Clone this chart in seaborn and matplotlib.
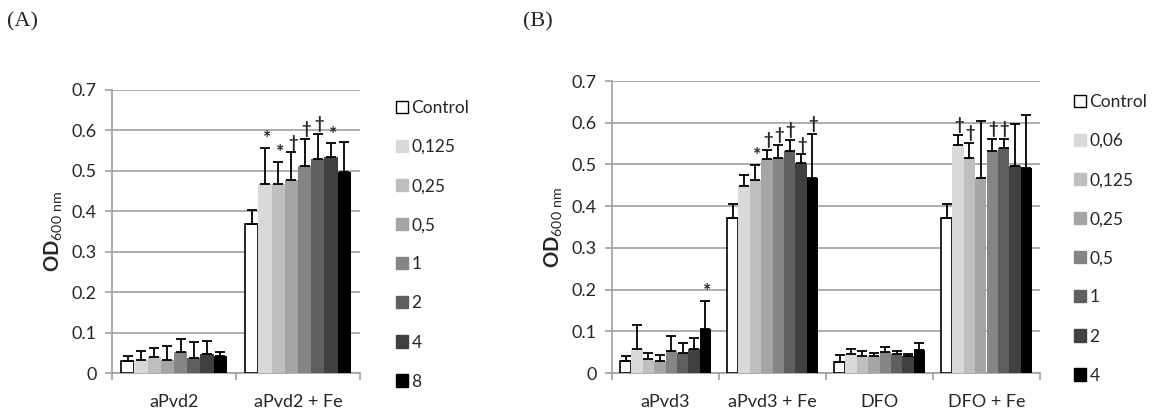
import pandas as pd
import matplotlib
matplotlib.use("Agg")
import matplotlib.pyplot as plt
from matplotlib.patches import Patch
import seaborn as sns

# ---- data ----
conc_a = ['Control', '0,125', '0,25', '0,5', '1', '2', '4', '8']
groups_a = ['aPvd2', 'aPvd2 + Fe']
mean_a = {
    'aPvd2':      [0.030, 0.033, 0.039, 0.033, 0.051, 0.037, 0.046, 0.041],
    'aPvd2 + Fe': [0.369, 0.467, 0.467, 0.477, 0.512, 0.529, 0.535, 0.496],
}
err_a = {
    'aPvd2':      [0.013, 0.021, 0.023, 0.033, 0.032, 0.039, 0.033, 0.011],
    'aPvd2 + Fe': [0.035, 0.089, 0.056, 0.069, 0.067, 0.062, 0.033, 0.076],
}
sig_a = {
    'aPvd2':      ['', '', '', '', '', '', '', ''],
    'aPvd2 + Fe': ['', '*', '*', '†', '†', '†', '*', ''],
}

conc_b = ['Control', '0,06', '0,125', '0,25', '0,5', '1', '2', '4']
groups_b = ['aPvd3', 'aPvd3 + Fe', 'DFO', 'DFO + Fe']
mean_b = {
    'aPvd3':      [0.028, 0.057, 0.033, 0.028, 0.053, 0.049, 0.057, 0.105],
    'aPvd3 + Fe': [0.371, 0.448, 0.463, 0.512, 0.516, 0.531, 0.504, 0.467],
    'DFO':        [0.027, 0.046, 0.041, 0.041, 0.051, 0.046, 0.041, 0.055],
    'DFO + Fe':   [0.371, 0.547, 0.515, 0.468, 0.533, 0.540, 0.496, 0.491],
}
err_b = {
    'aPvd3':      [0.013, 0.059, 0.015, 0.015, 0.036, 0.024, 0.028, 0.068],
    'aPvd3 + Fe': [0.034, 0.027, 0.036, 0.023, 0.031, 0.028, 0.020, 0.106],
    'DFO':        [0.015, 0.011, 0.012, 0.008, 0.012, 0.007, 0.005, 0.016],
    'DFO + Fe':   [0.034, 0.024, 0.036, 0.137, 0.028, 0.021, 0.101, 0.127],
}
sig_b = {
    'aPvd3':      ['', '', '', '', '', '', '', '*'],
    'aPvd3 + Fe': ['', '', '*', '†', '†', '†', '†', '†'],
    'DFO':        ['', '', '', '', '', '', '', ''],
    'DFO + Fe':   ['', '†', '†', '', '†', '†', '', ''],
}

greys = ['#ffffff', '#d9d9d9', '#bfbfbf', '#a5a5a5', '#858585', '#5f5f5f', '#404040', '#000000']
grid_col = '#a0a0a0'

sns.set_style('white')
plt.rcParams['font.family'] = ['Lato', 'DejaVu Sans']
plt.rcParams['mathtext.fontset'] = 'custom'
plt.rcParams['mathtext.rm'] = 'Lato'
plt.rcParams['mathtext.bf'] = 'Lato:bold'

fig = plt.figure(figsize=(11.54, 4.08), dpi=100)


def panel(rect, groups, conc, means, errs, sigs, legend_xy):
    ax = fig.add_axes(rect)
    rows = []
    for g in groups:
        for c, m in zip(conc, means[g]):
            rows.append({'group': g, 'conc': c, 'od': m})
    df = pd.DataFrame(rows)
    pal = dict(zip(conc, greys))
    sns.barplot(data=df, x='group', y='od', hue='conc', order=groups, hue_order=conc,
                palette=pal, width=0.85, gap=0, errorbar=None, linewidth=0,
                legend=False, ax=ax, zorder=3)

    bar_conts = list(ax.containers)
    for i, cont in enumerate(bar_conts):
        for j, bar in enumerate(cont):
            g = groups[j]
            if i == 0:
                bar.set_edgecolor('black')
                bar.set_linewidth(1.2)
            x = bar.get_x() + bar.get_width() / 2
            h = bar.get_height()
            e = errs[g][i]
            ax.errorbar(x, h, yerr=[[0], [e]], color='black', elinewidth=1.3,
                        capsize=3.6, capthick=1.3, zorder=4)
            s = sigs[g][i]
            if s == '*':
                ax.text(x + 0.015, h + e + 0.002, s, ha='center', va='bottom',
                        fontsize=14, fontweight='bold', zorder=5)
            elif s:
                ax.text(x + 0.01, h + e + 0.004, s, ha='center', va='bottom',
                        fontsize=12, fontweight='bold', zorder=5)

    ax.set_ylim(0, 0.7)
    ax.set_xlim(-0.5, len(groups) - 0.5)
    ax.set_yticks([0, 0.1, 0.2, 0.3, 0.4, 0.5, 0.6, 0.7])
    ax.set_yticklabels(['0', '0.1', '0.2', '0.3', '0.4', '0.5', '0.6', '0.7'])
    ax.yaxis.grid(True, color=grid_col, linewidth=1.2, zorder=0)
    ax.set_axisbelow(True)
    for sp in ['top', 'right']:
        ax.spines[sp].set_visible(False)
    for sp in ['left', 'bottom']:
        ax.spines[sp].set_color(grid_col)
        ax.spines[sp].set_linewidth(1.2)
    ax.tick_params(axis='y', which='major', length=5, width=1.2, color=grid_col,
                   labelsize=13, pad=6, left=True)
    ax.set_xticks([k - 0.5 for k in range(len(groups) + 1)], minor=True)
    ax.tick_params(axis='x', which='minor', length=5, width=1.2, color=grid_col,
                   direction='out', bottom=True)
    ax.tick_params(axis='x', which='major', length=0, labelsize=13, pad=15)
    ax.set_xlabel('')
    ax.set_ylabel(r'$\mathbf{OD}_{\mathrm{600\ nm}}$', fontsize=14.5, labelpad=5)

    handles = [Patch(facecolor=greys[k], edgecolor='black' if k == 0 else greys[k],
                     linewidth=1.0) for k in range(len(conc))]
    ax.legend(handles, conc, loc='upper left', bbox_to_anchor=legend_xy,
              bbox_transform=fig.transFigure, frameon=False, fontsize=12.5,
              handlelength=0.7, handleheight=0.7, handletextpad=0.2,
              labelspacing=1.33, borderpad=0, borderaxespad=0)
    return ax


W, H = 1154, 408
panel([112 / W, 35 / H, 248 / W, 283 / H], groups_a, conc_a, mean_a, err_a, sig_a,
      (396 / W, 1 - 100 / H))
panel([612 / W, 35 / H, 428 / W, 292 / H], groups_b, conc_b, mean_b, err_b, sig_b,
      (1074 / W, 1 - 94 / H))

fig.text(7 / W, 1 - 22 / H, '(A)', family='Liberation Serif', fontsize=16, va='center')
fig.text(523 / W, 1 - 22 / H, '(B)', family='Liberation Serif', fontsize=16, va='center')

fig.savefig('out.png', dpi=100, facecolor='white')
